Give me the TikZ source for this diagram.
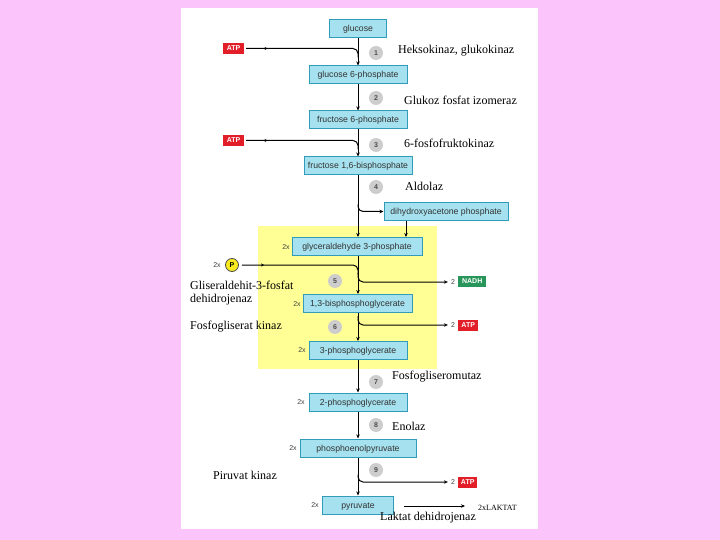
\documentclass[tikz,border=0pt]{standalone}
\usepackage{fontspec}
\setmainfont{Liberation Serif}
\newfontfamily\boxfont{Liberation Sans}
\usetikzlibrary{arrows.meta,decorations.markings,calc}
\definecolor{bgpink}{RGB}{251,196,251}
\definecolor{boxfill}{RGB}{165,225,238}
\definecolor{boxline}{RGB}{50,155,185}
\definecolor{hlyellow}{RGB}{255,255,150}
\definecolor{atpred}{RGB}{226,30,40}
\definecolor{nadhgreen}{RGB}{40,150,90}
\definecolor{stepgray}{RGB}{205,205,205}
\definecolor{pyellow}{RGB}{250,235,30}
\begin{document}
\begin{tikzpicture}[x=1pt,y=-1pt,
  mol/.style={draw=boxline, fill=boxfill, line width=1pt, minimum height=18pt, inner sep=0pt, text height=6pt, text depth=0pt, font=\boxfont\fontsize{8.7}{9}\selectfont, text=black!80},
  stepnum/.style={circle, fill=stepgray, minimum size=14pt, inner sep=0pt, font=\boxfont\bfseries\fontsize{7}{8}\selectfont, text=black!70},
  tag/.style={inner sep=0pt, minimum height=11pt, font=\boxfont\bfseries\fontsize{7}{8}\selectfont, text=white},
  enz/.style={anchor=west, inner sep=0pt, font=\fontsize{12}{13}\selectfont},
  cnt/.style={font=\boxfont\fontsize{7}{8}\selectfont, inner sep=0pt, text=black!75},
  flow/.style={line width=1pt, -{Stealth[length=4pt,width=3.5pt]}},
  inline/.style={line width=1pt, rounded corners=5pt, postaction={decorate},
    decoration={markings, mark=at position 0.18 with {\arrow{Stealth[length=3pt,width=3pt]}}}}
]
\fill[bgpink] (0,0) rectangle (720,540);
\useasboundingbox (0,0) rectangle (720,540);
\fill[white] (181,8) rectangle (538,529);
\fill[hlyellow] (258,226) rectangle (437,369);

% molecules
\node[mol, minimum width=57pt] (glucose) at (358,28.5) {glucose};
\node[mol, minimum width=98pt] (g6p) at (358,75) {glucose 6-phosphate};
\node[mol, minimum width=98pt] (f6p) at (358,120) {fructose 6-phosphate};
\node[mol, minimum width=108pt] (f16bp) at (358,166) {fructose 1,6-bisphosphate};
\node[mol, minimum width=124pt] (dhap) at (446,211.5) {dihydroxyacetone phosphate};
\node[mol, minimum width=130pt] (gap) at (357,246.5) {glyceraldehyde 3-phosphate};
\node[mol, minimum width=109pt] (bpg) at (357.5,303.5) {1,3-bisphosphoglycerate};
\node[mol, minimum width=98pt] (pg3) at (358,350.5) {3-phosphoglycerate};
\node[mol, minimum width=98pt] (pg2) at (358,402) {2-phosphoglycerate};
\node[mol, minimum width=116pt] (pep) at (358,448) {phosphoenolpyruvate};
\node[mol, minimum width=71pt] (pyr) at (358,505) {pyruvate};

% 2x counts
\node[cnt] (c1) at (286,247) {2x};
\node[cnt] (c2) at (297,304) {2x};
\node[cnt] (c3) at (302,350) {2x};
\node[cnt] (c4) at (301,402) {2x};
\node[cnt] (c5) at (293,448) {2x};
\node[cnt] (c6) at (315,505) {2x};
\node[cnt] (c7) at (217,265) {2x};

% step numbers
\node[stepnum] (s1) at (376,53) {1};
\node[stepnum] (s2) at (376,98) {2};
\node[stepnum] (s3) at (376,145) {3};
\node[stepnum] (s4) at (376,187) {4};
\node[stepnum] (s5) at (335,281) {5};
\node[stepnum] (s6) at (335,327) {6};
\node[stepnum] (s7) at (376,382) {7};
\node[stepnum] (s8) at (376,425) {8};
\node[stepnum] (s9) at (376,470) {9};

% cofactors
\node[tag, fill=atpred, minimum width=21pt] (atp1) at (233.5,48.5) {ATP};
\node[tag, fill=atpred, minimum width=21pt] (atp2) at (233.5,140.5) {ATP};
\node[circle, draw=black!70, fill=pyellow, line width=0.8pt, minimum size=13pt, inner sep=0pt, font=\boxfont\bfseries\fontsize{7}{8}\selectfont] (pi) at (232,265) {P};
\node[cnt] (n2) at (453,282) {2};
\node[tag, fill=nadhgreen, minimum width=28pt, anchor=west] (nadh) at (458,281.5) {NADH};
\node[cnt] (a2) at (453,325) {2};
\node[tag, fill=atpred, minimum width=20pt, anchor=west] (atp3) at (458,325.5) {ATP};
\node[cnt] (a3) at (453,482) {2};
\node[tag, fill=atpred, minimum width=19pt, anchor=west] (atp4) at (458,482) {ATP};

% enzyme names
\node[enz] (e1) at (398,51) {Heksokinaz, glukokinaz};
\node[enz] (e2) at (404,100) {Glukoz fosfat izomeraz};
\node[enz] (e3) at (404,143) {6-fosfofruktokinaz};
\node[enz] (e4) at (405,186) {Aldolaz};
\node[enz, align=left] (e5) at (190,293) {Gliseraldehit-3-fosfat\\dehidrojenaz};
\node[enz] (e6) at (190,327) {Fosfogliserat kinaz};
\node[enz] (e7) at (392,377) {Fosfogliseromutaz};
\node[enz] (e8) at (392,426) {Enolaz};
\node[enz] (e9) at (213,475) {Piruvat kinaz};
\node[enz, font=\fontsize{8}{9}\selectfont] (lak) at (478,508) {2xLAKTAT};
\node[enz] (e10) at (380,518) {Laktat dehidrojenaz};

% main flow
\draw[flow] (glucose.south) -- (glucose.south |- g6p.north);
\draw[flow] (g6p.south) -- (g6p.south |- f6p.north);
\draw[flow] (f6p.south) -- (f6p.south |- f16bp.north);
\draw[flow] (f16bp.south) -- (f16bp.south |- gap.north);
\draw[flow] (f16bp.south |- gap.south) -- (f16bp.south |- bpg.north);
\draw[flow] (f16bp.south |- bpg.south) -- (f16bp.south |- pg3.north);
\draw[flow] (pg3.south) -- (pg3.south |- pg2.north);
\draw[flow] (pg2.south) -- (pg2.south |- pep.north);
\draw[flow] (pep.south) -- (pep.south |- pyr.north);
\draw[flow] ([xshift=10pt,yshift=-1pt]pyr.east) -- ([xshift=-13pt,yshift=-1pt]pyr.east -| lak.west);

% inputs
\draw[inline] ([xshift=2pt]atp1.east) -- (atp1.east -| glucose.south) -- ++(0,9);
\draw[inline] ([xshift=2pt]atp2.east) -- (atp2.east -| glucose.south) -- ++(0,9);
\draw[inline] ([xshift=3pt]pi.east) -- (pi.east -| f16bp.south) -- ++(0,9);

% branches
\draw[flow, rounded corners=5pt] ($(f16bp.south)+(0,29)$) |- (dhap.west);
\draw[flow] ([xshift=-40pt]dhap.south) -- ([xshift=-40pt]dhap.south |- gap.north);
\draw[flow, rounded corners=5pt] ($(f16bp.south |- gap.south)+(0,17)$) |- ([xshift=-3pt]n2.west);
\draw[flow, rounded corners=5pt] ($(f16bp.south |- bpg.south)+(0,3)$) |- ([xshift=-3pt]a2.west);
\draw[flow, rounded corners=5pt] ($(pep.south)+(0,17)$) |- ([xshift=-3pt]a3.west);
\end{tikzpicture}
\end{document}
